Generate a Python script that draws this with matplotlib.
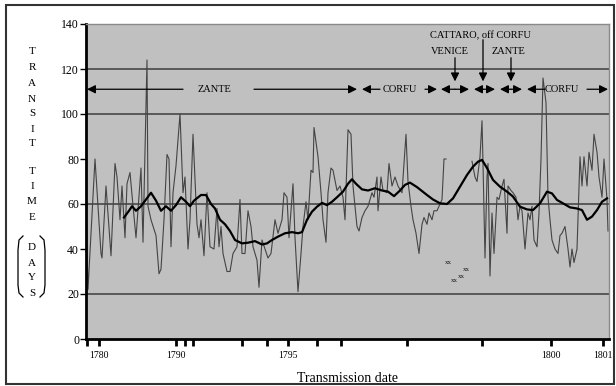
import numpy as np
import matplotlib.pyplot as plt
from matplotlib.patches import Rectangle
from matplotlib.lines import Line2D

plt.rcParams['font.family'] = ['Liberation Serif', 'DejaVu Serif']

# position along the (non-linear) time axis, transit time in days
raw_pos = [0, 2, 9, 15, 16, 20, 25, 29, 31, 34, 36, 39, 41, 44, 46, 50, 55, 57, 61, 62,
           65, 70, 73, 75, 78, 81, 83, 85, 87, 90, 94, 97, 99, 102, 104, 107, 111, 113, 115, 118,
           121, 124, 128, 131, 133, 135, 137, 141, 144, 147, 151, 154, 156, 159, 162, 165, 167, 171, 173, 176,
           179, 182, 185, 189, 192, 196, 198, 201, 203, 207, 209, 212, 215, 217, 220, 222, 225, 227, 228, 232,
           235, 237, 240, 242, 245, 247, 251, 254, 257, 259, 262, 265, 267, 271, 273, 276, 279, 282, 286, 288,
           291, 292, 295, 297, 301, 303, 306, 309, 312, 316, 320, 322, 325, 327, 330, 333, 336, 338, 341, 343,
           346, 348, 351, 354, 356, 358, 360, 370,
           386, 389, 391, 394, 396, 397, 399, 401, 402, 404, 406, 408, 411, 413, 416, 418, 421, 422, 425, 427,
           430, 432, 434, 436, 439, 442, 444, 446, 448, 451, 453, 455, 457, 460, 462, 464, 466, 469, 472, 474,
           476, 479, 482, 484, 486, 488, 491, 494, 496, 498, 501, 503, 506, 508, 511, 513, 516, 518, 521, 522]
raw_days = [60, 22, 80, 38, 36, 68, 37, 78, 72, 53, 68, 45, 69, 74, 64, 45, 76, 43, 124, 59,
            53, 46, 29, 31, 53, 82, 80, 41, 65, 77, 100, 65, 72, 40, 53, 91, 51, 45, 53, 37,
            65, 41, 40, 58, 41, 50, 38, 30, 30, 38, 41, 62, 38, 38, 57, 50, 41, 35, 23, 44,
            40, 36, 38, 53, 47, 53, 65, 63, 45, 69, 45, 21, 38, 50, 61, 53, 75, 74, 94, 81,
            65, 53, 43, 65, 76, 75, 66, 68, 63, 53, 93, 91, 68, 50, 48, 54, 57, 59, 65, 63,
            72, 57, 72, 66, 65, 78, 68, 72, 68, 65, 91, 70, 59, 53, 47, 38, 51, 54, 51, 56,
            53, 57, 57, 60, 62, 80, 80, np.nan,
            79, 72, 70, 81, 97, 78, 36, 72, 78, 28, 56, 38, 63, 62, 68, 71, 47, 68, 66, 65,
            63, 53, 59, 57, 40, 56, 53, 59, 44, 41, 56, 80, 116, 105, 63, 53, 44, 40, 38, 46,
            47, 50, 40, 32, 40, 34, 40, 81, 68, 81, 68, 83, 75, 91, 83, 72, 63, 80, 62, 48]

avg_pos = [38, 43, 46, 50, 55, 60, 65, 70, 75, 80, 85, 90, 95, 100, 104, 108, 115, 120, 125, 129,
           134, 139, 144, 149, 156, 162, 169, 176, 181, 186, 192, 199, 206, 212, 216, 221, 226, 231, 236, 241,
           246, 251, 257, 262, 266, 270, 276, 282, 289, 296, 302, 308, 314, 319, 324, 331, 341, 347, 354, 361,
           367, 374, 381, 387, 392, 396, 401, 407, 414, 421, 427, 434, 441, 447, 454, 461, 466, 471, 477, 484,
           491, 496, 501, 506, 511, 516, 521]
avg_days = [54, 57, 59, 57, 59, 62, 65, 61.5, 57, 59, 57, 59.5, 63, 61, 59, 61.5, 64, 64, 60, 58,
            53, 51, 48, 44, 42.5, 42.8, 43.5, 42, 42.5, 44, 45.5, 47, 47.5, 47, 47.5, 53, 56.6, 58.8, 60.5, 59.5,
            61, 63, 65.5, 69, 71, 69, 66.5, 66, 67, 66, 65.5, 63.5, 66, 68.5, 69.5, 67.5, 64, 62, 60.3, 60,
            62.5, 67.7, 72.9, 76.6, 78.8, 79.6, 76, 70.7, 67.7, 65.5, 63.3, 58.8, 57.6, 57.3, 60.3, 65.5, 64.7, 61.8, 60.3, 58.5,
            58, 57.3, 53, 54.4, 57.3, 61, 62.5]

xx_pos = [362, 380, 375, 368]
xx_days = [33.8, 31.1, 28, 25.8]

tick_pos = [1, 13, 90, 99, 107, 156, 181, 202, 231, 255, 321, 396, 465, 517]
tick_lbl = ['', '1780', '1790', '', '', '', '', '1795', '', '', '', '', '1800', '1801']

places = ['ZANTE', 'CORFU', 'CORFU']
place_pos = [128, 314, 476]
ports = ['VENICE', 'CATTARO, off CORFU', 'ZANTE']
port_pos = [369, 397, 425]
port_lbl_pos = [364, 394, 422]
port_lbl_y = [127.6, 135, 127.6]
port_top = [125, 133, 125]
# (tail, head) of the horizontal arrows at 111 days
arrows = [(97, 1), (168, 271), (294, 276), (339, 351),
          (369, 355), (369, 383), (397, 388), (397, 409),
          (425, 414), (425, 436), (459, 441), (501, 522)]

fig = plt.figure(figsize=(6.16, 3.86), dpi=100)
ax = fig.add_axes([86 / 616, 47 / 386, 523 / 616, 315 / 386])
ax.set_facecolor('#c0c0c0')

for g in [20, 60, 100, 120]:
    ax.axhline(g, color='#474747', lw=1.2, zorder=1)

ax.plot(raw_pos, raw_days, color='#444444', lw=0.8, zorder=2)
ax.plot(avg_pos, avg_days, color='black', lw=1.6, zorder=3)
for x, y in zip(xx_pos, xx_days):
    ax.text(x, y, 'xx', fontsize=5, ha='center', va='center', color='#111111')

lvl = 111
for tail, head in arrows:
    ax.annotate('', xy=(head, lvl), xytext=(tail, lvl),
                arrowprops=dict(arrowstyle='-|>,head_length=0.5,head_width=0.25',
                                color='black', lw=0.9, shrinkA=0, shrinkB=0,
                                mutation_scale=10))
for name, x in zip(places, place_pos):
    ax.text(x, lvl, name, fontsize=7.5, ha='center', va='center')
for name, x, lx, ly, top in zip(ports, port_pos, port_lbl_pos, port_lbl_y, port_top):
    ax.text(lx, ly, name, fontsize=7.5, ha='center', va='center')
    ax.annotate('', xy=(x, 114.5), xytext=(x, top),
                arrowprops=dict(arrowstyle='-|>,head_length=0.5,head_width=0.25',
                                color='black', lw=0.9, shrinkA=0, shrinkB=0,
                                mutation_scale=10))

ax.set_xlim(0, 523)
ax.set_ylim(0, 140)
ax.set_yticks(range(0, 141, 20))
ax.set_xticks(tick_pos)
ax.set_xticklabels(tick_lbl, fontsize=7)
ax.tick_params(axis='y', labelsize=8.5, length=4, width=1, pad=1)
ax.tick_params(axis='x', length=5, width=2, pad=4)
ax.spines['left'].set_linewidth(2)
ax.spines['bottom'].set_linewidth(2)
for s in ['top', 'right']:
    ax.spines[s].set_color('#8a8a8a')
    ax.spines[s].set_linewidth(1)
ax.set_xlabel('Transmission date', fontsize=10, labelpad=8)

# stacked y title
letters = list('TRANSIT') + list('TIME') + list('DAYS')
letter_y = [52, 68, 84, 99, 114, 129, 143, 172, 187, 202, 218, 247, 263, 278, 293]
for ch, py in zip(letters, letter_y):
    fig.text(32 / 616, (386 - py) / 386, ch, fontsize=8, ha='center', va='center')

# brackets round DAYS
bx = np.array([23, 19, 18, 18, 19, 23])
by = np.array([236, 240, 250, 285, 293, 297])
for xs in [bx, 63 - bx]:
    fig.add_artist(Line2D(xs / 616, (386 - by) / 386, color='black', lw=0.9,
                          transform=fig.transFigure))

fig.add_artist(Rectangle((6 / 616, 2 / 386), 608 / 616, 379 / 386, fill=False,
                         edgecolor='#333333', lw=1.5, transform=fig.transFigure))

fig.savefig('out.png', dpi=100)
